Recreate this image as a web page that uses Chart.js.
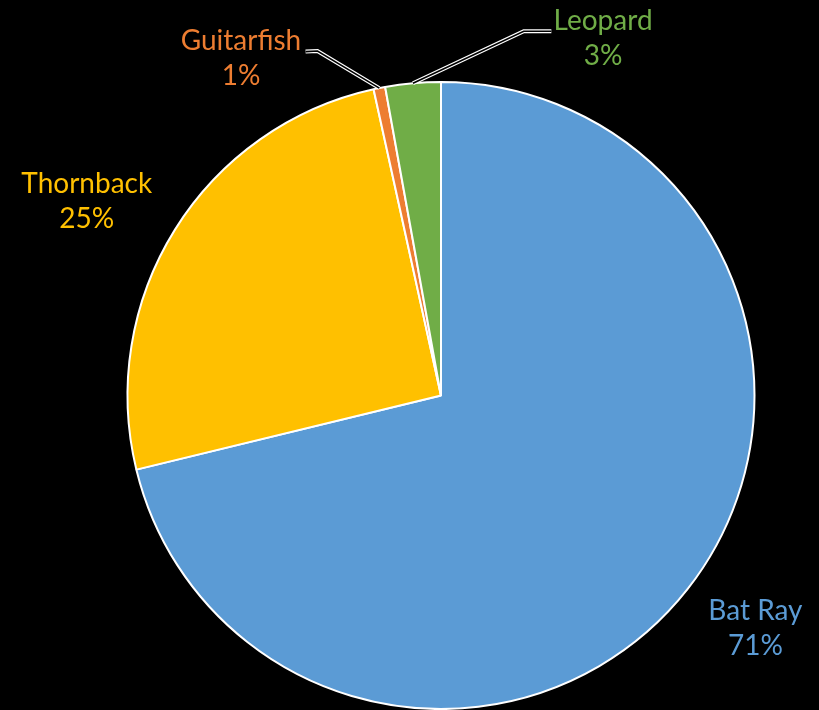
<!DOCTYPE html>
<html>
<head>
<meta charset="utf-8">
<script src="https://cdn.jsdelivr.net/npm/chart.js@4"></script>
<style>
html,body{margin:0;padding:0;background:#000;}
#wrap{width:819px;height:710px;position:relative;}
</style>
</head>
<body>
<div id="wrap"><canvas id="c" width="819" height="710"></canvas></div>
<script>
const categories = ['Bat Ray', 'Thornback', 'Guitarfish', 'Leopard'];
const shares = [71.2, 25.35, 0.6, 2.85];
const percentLabels = ['71%', '25%', '1%', '3%'];
const colors = ['#5B9BD5', '#FFC000', '#ED7D31', '#70AD47'];

// label placement relative to pie centre, in units of radius
const labelPlacement = [
  {dx: 1.003, dy: 0.743, leader: null},
  {dx: -1.130, dy: -0.622, leader: null},
  {dx: -0.638, dy: -1.076, leader: [[-0.394, -1.099], [-0.432, -1.097]]},
  {dx: 0.517, dy: -1.140, leader: [[0.264, -1.162], [0.352, -1.162]]}
];

const labelPlugin = {
  id: 'pieLabels',
  afterDatasetsDraw(chart) {
    const ctx = chart.ctx;
    const meta = chart.getDatasetMeta(0);
    meta.data.forEach((arc, i) => {
      const p = labelPlacement[i];
      const r = arc.outerRadius;
      const cx = arc.x, cy = arc.y;
      if (p.leader) {
        const mid = (arc.startAngle + arc.endAngle) / 2;
        const pts = [[cx + Math.cos(mid) * r, cy + Math.sin(mid) * r]];
        p.leader.forEach(q => pts.push([cx + q[0] * r, cy + q[1] * r]));
        ctx.save();
        ctx.lineJoin = 'miter';
        ctx.lineCap = 'butt';
        [[4, '#ffffff'], [1.6, '#000000']].forEach(([w, c]) => {
          ctx.beginPath();
          ctx.moveTo(pts[0][0], pts[0][1]);
          for (let k = 1; k < pts.length; k++) ctx.lineTo(pts[k][0], pts[k][1]);
          ctx.lineWidth = w;
          ctx.strokeStyle = c;
          ctx.stroke();
        });
        ctx.restore();
      }
      const lx = cx + p.dx * r, ly = cy + p.dy * r;
      ctx.save();
      ctx.fillStyle = colors[i];
      ctx.font = '28px Lato';
      ctx.textAlign = 'center';
      ctx.textBaseline = 'middle';
      ctx.fillText(categories[i], lx, ly - 17);
      ctx.fillText(percentLabels[i], lx, ly + 18);
      ctx.restore();
    });
  }
};

new Chart(document.getElementById('c'), {
  type: 'pie',
  data: {
    labels: categories,
    datasets: [{
      data: shares,
      backgroundColor: colors,
      borderColor: '#ffffff',
      borderWidth: 2,
      hoverOffset: 0
    }]
  },
  options: {
    responsive: false,
    animation: false,
    layout: {padding: {left: 126, right: 63, top: 81, bottom: -1}},
    plugins: {legend: {display: false}, tooltip: {enabled: false}}
  },
  plugins: [labelPlugin]
});
</script>
</body>
</html>
